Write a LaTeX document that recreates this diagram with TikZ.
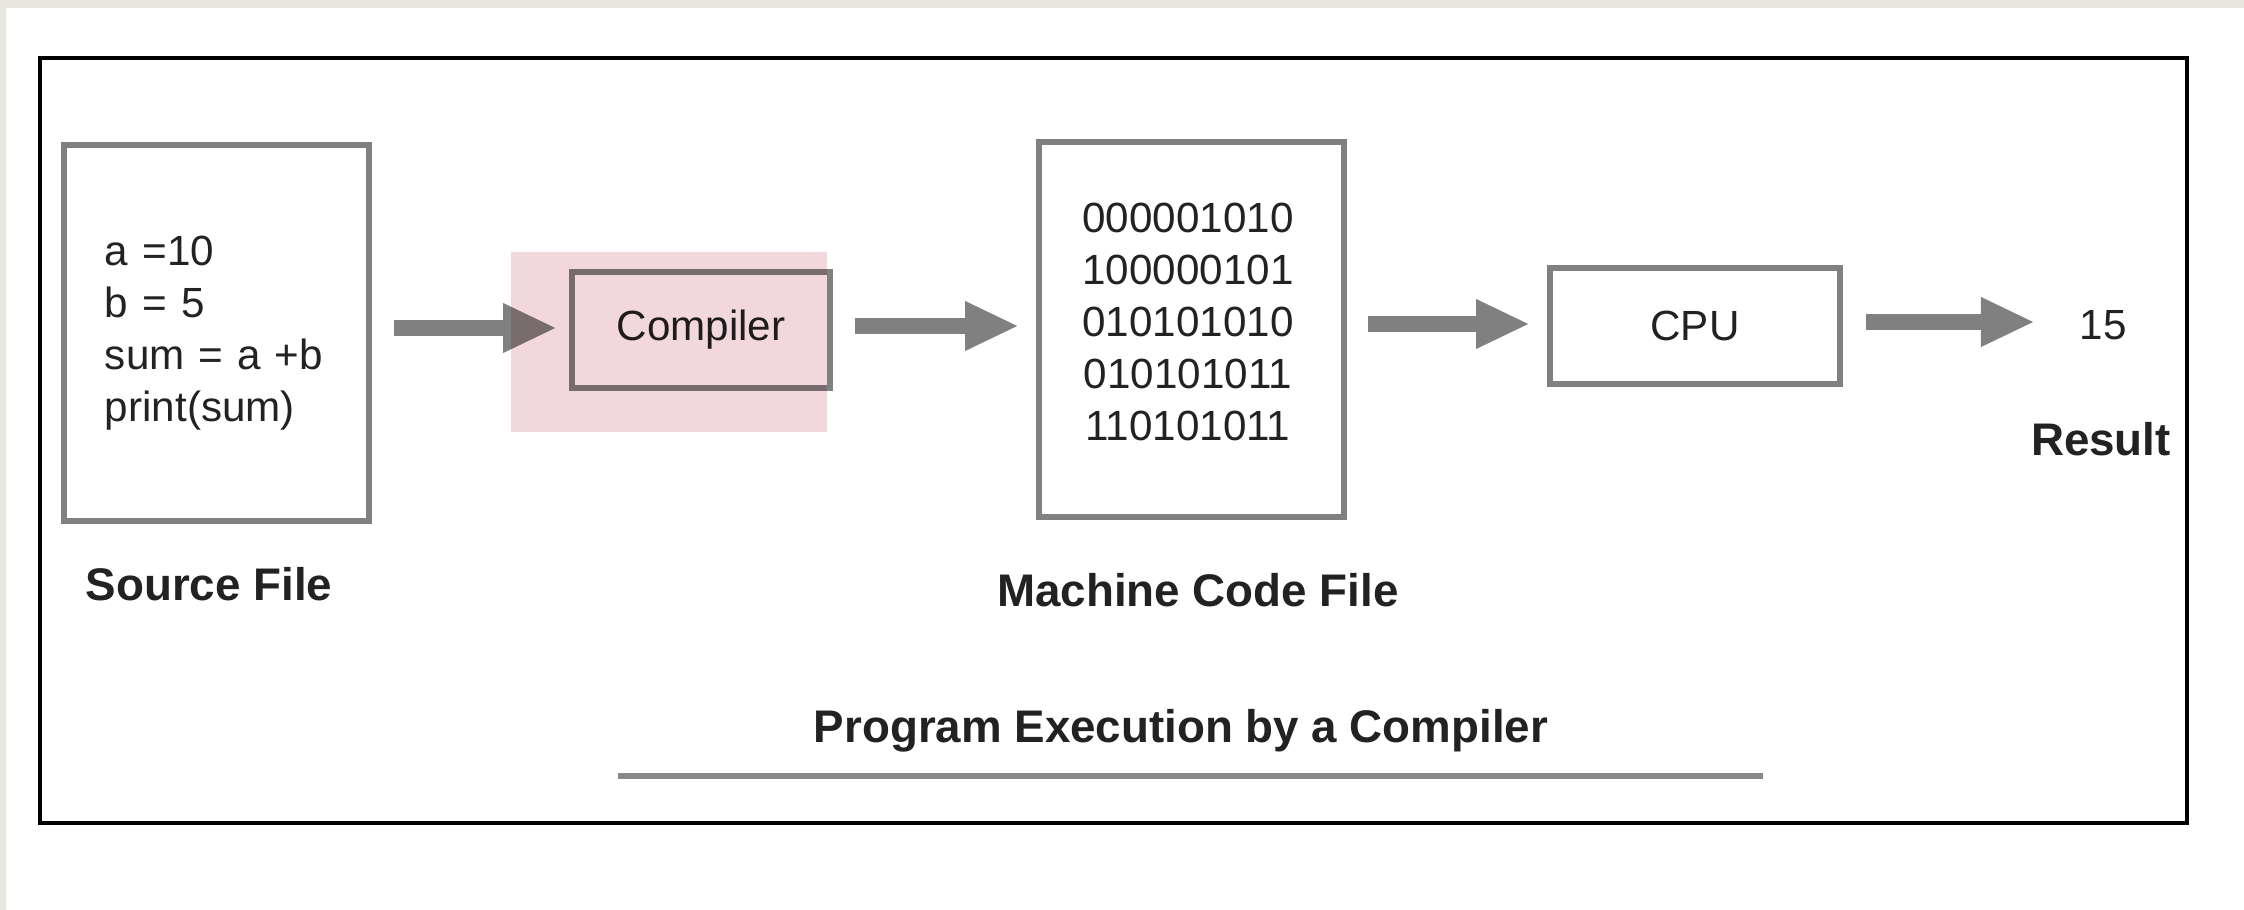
\documentclass[tikz,border=0pt]{standalone}
\usepackage{fontspec}
\setmainfont{Liberation Sans}
\usetikzlibrary{arrows.meta}
\definecolor{bgbeige}{RGB}{232,232,220}
\definecolor{boxgray}{RGB}{128,128,128}
\definecolor{txt}{RGB}{34,34,34}
\definecolor{pinkhl}{RGB}{242,216,221}
\definecolor{rulegray}{RGB}{136,136,136}
\begin{document}
\begin{tikzpicture}[x=0.01cm,y=-0.01cm,
  codebox/.style={draw=boxgray, line width=1.6pt, inner sep=0pt, text=txt,
    font=\fontsize{12}{14.8}\selectfont},
  plaintext/.style={inner sep=0pt, text=txt, font=\fontsize{12}{14.8}\selectfont},
  boldlabel/.style={inner sep=0pt, text=txt, font=\bfseries\fontsize{13}{15}\selectfont},
  bigarrow/.style={draw=boxgray, line width=4.8pt,
    -{Triangle[length=14.8pt,width=14.2pt,line width=0.1pt]}}]
\useasboundingbox (0,0) rectangle (2244,910);
\fill[bgbeige] (0,0) rectangle (2244,910);
\fill[white] (6,8) rectangle (2244,910);
% outer frame
\draw[black, line width=0.9pt] (40,58) rectangle (2187,823);
% boxes
\node[codebox, minimum width=3.05cm, minimum height=3.76cm, align=left, text width=2.23cm]
  (src) at (216.5,333) {a =10\\b = 5\\sum = a +b\\print(sum)};
\node[codebox, minimum width=2.58cm, minimum height=1.16cm] (comp) at (701,330) {Compiler};
\node[codebox, minimum width=3.05cm, minimum height=3.75cm] (mc) at (1191.5,329.5) {};
\node[plaintext, align=center] (bits) at (1188,322)
  {000001010\\100000101\\010101010\\010101011\\110101011};
\node[codebox, minimum width=2.90cm, minimum height=1.16cm] (cpu) at (1695,326) {CPU};
\node[plaintext, anchor=west] (res) at (2079,325) {15};
% labels
\node[boldlabel] (srclbl) at (209,584) {Source File};
\node[boldlabel] (mclbl) at (1198,590) {Machine Code File};
\node[boldlabel] (reslbl) at (2101,439) {Result};
\node[boldlabel] (title) at (1181,731) {Program Execution by a Compiler};
\coordinate (ruleL) at (618,776);
\coordinate (ruleR) at (1763,776);
\draw[rulegray, line width=1.7pt] (ruleL) -- (ruleR);
% arrows
\draw[bigarrow, shorten <=0.22cm, shorten >=0.14cm]
  ([yshift=0.02cm]src.east |- comp.west) -- ([yshift=0.02cm]comp.west);
\draw[bigarrow, shorten <=0.22cm, shorten >=0.19cm]
  ([yshift=0.04cm]comp.east) -- ([yshift=0.04cm]mc.west |- comp.east);
\draw[bigarrow, shorten <=0.21cm, shorten >=0.19cm]
  ([yshift=0.02cm]mc.east |- cpu.west) -- ([yshift=0.02cm]cpu.west);
\draw[bigarrow, shorten <=0.23cm, shorten >=0.46cm]
  ([yshift=0.04cm]cpu.east) -- ([yshift=0.04cm]res.west |- cpu.east);
% pink highlight
\begin{scope}[blend mode=multiply]
\fill[pinkhl] (511,252) rectangle (827,432);
\end{scope}
\end{tikzpicture}
\end{document}
